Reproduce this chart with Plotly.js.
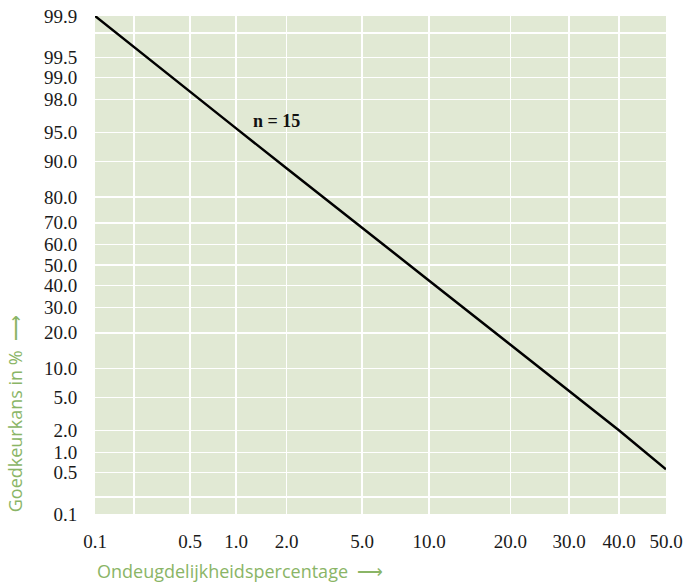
<!DOCTYPE html>
<html>
<head>
<meta charset="utf-8">
<script src="https://cdn.plot.ly/plotly-3.0.1.min.js"></script>
<style>html,body{margin:0;padding:0;background:#fff;}#chart{width:686px;height:582px;}</style>
</head>
<body>
<div id="chart"></div>
<script>
// Data (percentages)
const defectPct = [0.1, 0.5, 1, 2, 5, 10, 20, 30, 40, 50];
const acceptPct = [99.9, 98.4, 95.5, 88.5, 68, 42.3, 16.1, 5.9, 2.0, 0.56];
const seriesLabel = 'n = 15';

// Axis ticks (gridlines) and labels
const xTickVals = [0.1, 0.2, 0.5, 1, 2, 5, 10, 20, 30, 40, 50];
const xTickText = ['0.1', '', '0.5', '1.0', '2.0', '5.0', '10.0', '20.0', '30.0', '40.0', '50.0'];
const yTickVals = [0.1, 0.2, 0.5, 1, 2, 5, 10, 20, 30, 40, 50, 60, 70, 80, 90, 95, 98, 99, 99.5, 99.8, 99.9];
const yTickText = ['0.1', '', '0.5', '1.0', '2.0', '5.0', '10.0', '20.0', '30.0', '40.0', '50.0', '60.0', '70.0', '80.0', '90.0', '95.0', '98.0', '99.0', '99.5', '', '99.9'];

const arrow = '<span style="font-family:DejaVu Sans;font-weight:200">\u27F6</span>';
const xTitle = 'Ondeugdelijkheidspercentage\u00a0 ' + arrow;
const yTitle = 'Goedkeurkans in %\u00a0 ' + arrow;

// Inverse normal CDF (Acklam) -> probability-paper scale
function probit(p) {
  const a = [-3.969683028665376e+01, 2.209460984245205e+02, -2.759285104469687e+02, 1.383577518672690e+02, -3.066479806614716e+01, 2.506628277459239e+00];
  const b = [-5.447609879822406e+01, 1.615858368580409e+02, -1.556989798598866e+02, 6.680131188771972e+01, -1.328068155288572e+01];
  const c = [-7.784894002430293e-03, -3.223964580411365e-01, -2.400758277161838e+00, -2.549671010115452e+00, 4.374664141464968e+00, 2.938163982698783e+00];
  const d = [7.784695709041462e-03, 3.224671290700398e-01, 2.445134137142996e+00, 3.754408661907416e+00];
  const pl = 0.02425, ph = 1 - pl;
  let q, r;
  if (p < pl) {
    q = Math.sqrt(-2 * Math.log(p));
    return (((((c[0]*q+c[1])*q+c[2])*q+c[3])*q+c[4])*q+c[5]) / ((((d[0]*q+d[1])*q+d[2])*q+d[3])*q+1);
  } else if (p <= ph) {
    q = p - 0.5; r = q*q;
    return (((((a[0]*r+a[1])*r+a[2])*r+a[3])*r+a[4])*r+a[5])*q / (((((b[0]*r+b[1])*r+b[2])*r+b[3])*r+b[4])*r+1);
  } else {
    q = Math.sqrt(-2 * Math.log(1 - p));
    return -(((((c[0]*q+c[1])*q+c[2])*q+c[3])*q+c[4])*q+c[5]) / ((((d[0]*q+d[1])*q+d[2])*q+d[3])*q+1);
  }
}
const tp = v => probit(v / 100);

const serif = 'Liberation Serif, Times New Roman, serif';
const sans = 'Open Sans, Noto Sans, sans-serif';
const green = '#8ab566';

const trace = {
  x: defectPct.map(tp),
  y: acceptPct.map(tp),
  mode: 'lines',
  type: 'scatter',
  line: {color: '#000000', width: 2.5},
  hoverinfo: 'skip',
  showlegend: false
};

const layout = {
  width: 686, height: 582,
  margin: {l: 95, r: 20, t: 16, b: 68},
  paper_bgcolor: '#ffffff',
  plot_bgcolor: '#e1e9d4',
  xaxis: {
    range: [tp(0.1), tp(50)],
    tickmode: 'array',
    tickvals: xTickVals.map(tp),
    ticktext: xTickText,
    showgrid: true, gridcolor: '#ffffff', gridwidth: 1.5,
    zeroline: false, showline: false,
    ticks: 'outside', ticklen: 10, tickcolor: 'rgba(0,0,0,0)',
    tickfont: {family: serif, size: 19, color: '#1a1a1a'}
  },
  yaxis: {
    range: [tp(0.1), tp(99.9)],
    tickmode: 'array',
    tickvals: yTickVals.map(tp),
    ticktext: yTickText,
    showgrid: true, gridcolor: '#ffffff', gridwidth: 1.5,
    zeroline: false, showline: false,
    ticks: 'outside', ticklen: 13, tickcolor: 'rgba(0,0,0,0)',
    tickfont: {family: serif, size: 19, color: '#1a1a1a'}
  },
  annotations: [
    {
      text: seriesLabel, x: tp(1.75), y: tp(96.3), xref: 'x', yref: 'y',
      showarrow: false, xanchor: 'center', yanchor: 'middle',
      font: {family: serif, size: 18, color: '#111', weight: 'bold'}
    },
    {
      text: xTitle, x: 0, y: -0.114, xref: 'paper', yref: 'paper',
      showarrow: false, xanchor: 'left', yanchor: 'middle',
      font: {family: sans, size: 18, color: green}
    },
    {
      text: yTitle, x: -0.165, y: 0, xref: 'paper', yref: 'paper',
      showarrow: false, xanchor: 'left', yanchor: 'bottom', textangle: -90,
      font: {family: sans, size: 18, color: green}
    }
  ]
};

Plotly.newPlot('chart', [trace], layout, {displayModeBar: false, staticPlot: true});
</script>
</body>
</html>
